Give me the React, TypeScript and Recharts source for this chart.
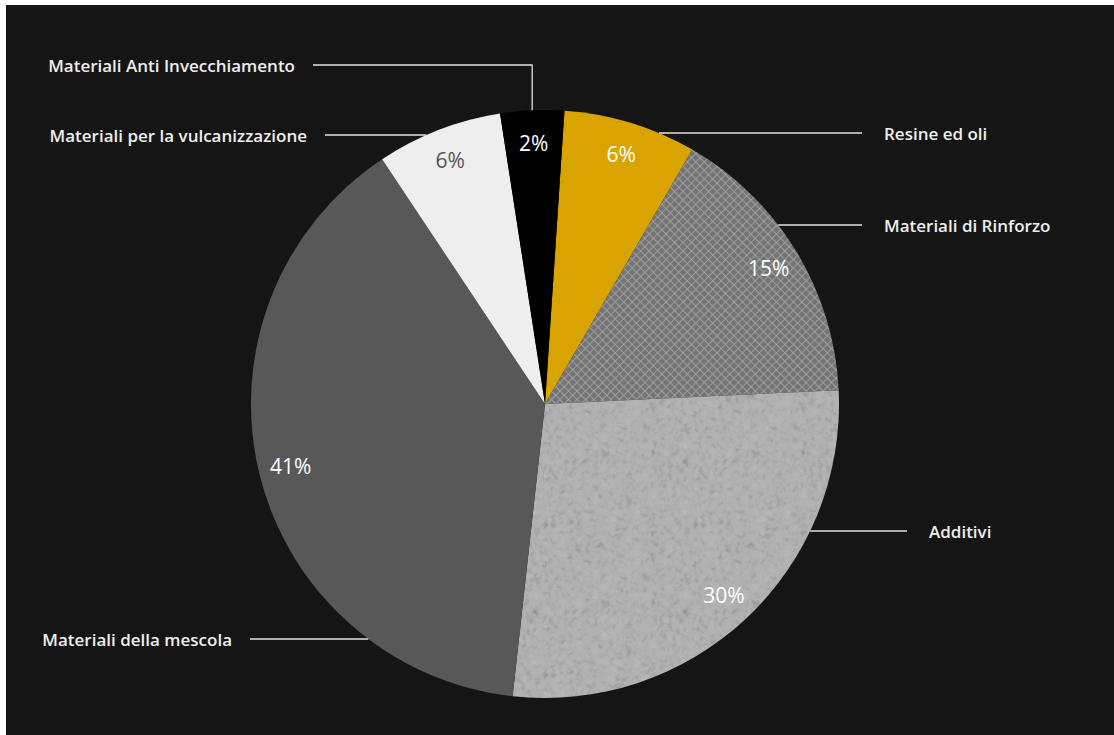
import React from "react"
import { PieChart, Pie, Cell } from "recharts"

// slices listed clockwise from the top
const categories = [
  "Resine ed oli",
  "Materiali di Rinforzo",
  "Additivi",
  "Materiali della mescola",
  "Materiali per la vulcanizzazione",
  "Materiali Anti Invecchiamento",
]
const shares = [7.3, 15.9, 27.5, 38.9, 6.9, 3.5]
const shownPercent = ["6%", "15%", "30%", "41%", "6%", "2%"]

const sliceFills = ["#d9a400", "url(#hatch)", "url(#grainFill)", "#585858", "#eeeeee", "#000000"]
const pctColors = ["#ffffff", "#ffffff", "#ffffff", "#ffffff", "#555555", "#ffffff"]

// leader rows (offset from center) and where the horizontal leader stops
const leaderLayout = [
  { row: -271, end: 317 },
  { row: -179, end: 317 },
  { row: 127, end: 362 },
  { row: 235, end: -295 },
  { row: -269, end: -220 },
  { row: -339, end: -232 },
]

const data = categories.map((name, i) => ({ name, value: shares[i] }))

const RAD = Math.PI / 180

const renderLabel = (props: any) => {
  const { cx, cy, midAngle, outerRadius, index } = props
  const lay = leaderLayout[index]
  const right = lay.end > 0
  const y = cy + lay.row
  let pts: string
  if (Math.abs(lay.row) < outerRadius) {
    const ex = Math.sqrt(outerRadius * outerRadius - lay.row * lay.row)
    const x0 = cx + (right ? ex : -ex)
    pts = `${x0},${y} ${cx + lay.end},${y}`
  } else {
    const mx = cx + outerRadius * Math.cos(-midAngle * RAD)
    const my = cy + outerRadius * Math.sin(-midAngle * RAD)
    pts = `${mx},${my} ${mx},${y} ${cx + lay.end},${y}`
  }
  const tx = cx + lay.end + (right ? 22 : -18)
  const r = outerRadius * 0.89
  const px = cx + r * Math.cos(-midAngle * RAD)
  const py = cy + r * Math.sin(-midAngle * RAD)
  return (
    <g>
      <polyline points={pts} fill="none" stroke="#e2e2e2" strokeWidth={1.3} />
      <text
        x={tx}
        y={y}
        textAnchor={right ? "start" : "end"}
        dominantBaseline="central"
        fill="#eeeeee"
        fontSize={17}
        fontWeight={600}
        fontFamily="Open Sans"
      >
        {categories[index]}
      </text>
      <text
        x={px}
        y={py}
        textAnchor="middle"
        dominantBaseline="central"
        fill={pctColors[index]}
        fontSize={21}
        fontFamily="Open Sans"
      >
        {shownPercent[index]}
      </text>
    </g>
  )
}

export default function App() {
  return (
    <div style={{ position: "absolute", left: 0, top: 0, width: 1114, height: 735, background: "#ffffff" }}>
      <div style={{ position: "absolute", left: 6, top: 5, right: 0, bottom: 0, background: "#151515" }} />
      <svg width={0} height={0} style={{ position: "absolute" }}>
        <defs>
          <pattern id="hatch" width="6" height="6" patternUnits="userSpaceOnUse" patternTransform="rotate(45)">
            <rect width="6" height="6" fill="#747474" />
            <path d="M0 0 H6 M0 0 V6" stroke="#ababab" strokeWidth="1.4" />
          </pattern>
          <filter id="grain" x="0" y="0" width="100%" height="100%">
            <feTurbulence type="turbulence" baseFrequency="0.12" numOctaves="2" seed="4" stitchTiles="stitch" />
            <feColorMatrix type="saturate" values="0" />
          </filter>
          <pattern id="grainFill" width="150" height="150" patternUnits="userSpaceOnUse">
            <rect width="150" height="150" fill="#b4b4b4" />
            <rect width="150" height="150" filter="url(#grain)" opacity="0.45" />
          </pattern>
        </defs>
      </svg>
      <div style={{ position: "absolute", left: 0, top: 0 }}>
        <PieChart width={1114} height={735} margin={{ top: 0, right: 0, bottom: 0, left: 0 }}>
          <Pie
            data={data}
            dataKey="value"
            nameKey="name"
            cx={545}
            cy={404}
            outerRadius={294}
            startAngle={86.2}
            endAngle={-273.8}
            stroke="none"
            label={renderLabel}
            labelLine={false}
            isAnimationActive={false}
          >
            {data.map((d, i) => (
              <Cell key={d.name} fill={sliceFills[i]} />
            ))}
          </Pie>
        </PieChart>
      </div>
    </div>
  )
}
